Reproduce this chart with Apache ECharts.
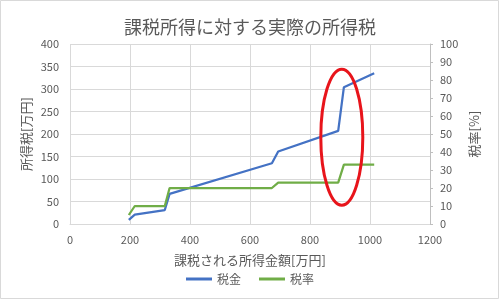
<!DOCTYPE html>
<html><head><meta charset="utf-8">
<script src="https://cdn.jsdelivr.net/npm/echarts@6/dist/echarts.min.js"></script>
<style>html,body{margin:0;padding:0;background:#fff}#c{width:500px;height:300px}</style>
</head><body><div id="c"></div>
<script>
const income = [196, 216, 316, 332, 673, 694, 894, 913, 1014];
const tax = [9, 21, 31, 67, 135, 161, 207, 304, 335];
const rate = [5, 10, 10, 20, 20, 23, 23, 33, 33];
const seriesNames = ['税金', '税率'];
const highlightCenter = [906, 193];

const F = '"Noto Sans CJK JP", "Noto Sans", sans-serif';
const TXT = '#595959';
const GRID = '#d9d9d9';
const chart = echarts.init(document.getElementById('c'), null, {renderer: 'canvas'});
chart.setOption({
  animation: false,
  backgroundColor: '#fff',
  textStyle: {fontFamily: F, color: TXT},
  title: {text: '課税所得に対する実際の所得税', left: 'center', top: 13,
    textStyle: {fontFamily: F, fontSize: 18, fontWeight: 'normal', color: TXT}},
  grid: {left: 70, right: 70, top: 44, bottom: 76},
  legend: {bottom: 10, left: 'center', icon: 'rect', itemWidth: 26, itemHeight: 3, itemGap: 18,
    textStyle: {fontFamily: F, fontSize: 12, color: TXT}, data: seriesNames},
  xAxis: {type: 'value', min: 0, max: 1200, interval: 200,
    name: '課税される所得金額[万円]', nameLocation: 'middle', nameGap: 30,
    nameTextStyle: {fontFamily: F, fontSize: 13, color: TXT},
    axisLine: {show: true, lineStyle: {color: GRID}}, axisTick: {show: false},
    axisLabel: {color: TXT, fontSize: 11, fontFamily: F, margin: 10, formatter: v => String(v)},
    splitLine: {show: true, lineStyle: {color: GRID, width: 1}}},
  yAxis: [
    {type: 'value', min: 0, max: 400, interval: 50, position: 'left',
      name: '所得税[万円]', nameLocation: 'middle', nameRotate: 90, nameGap: 37, nameMoveOverlap: false,
      nameTextStyle: {fontFamily: F, fontSize: 13, color: TXT},
      axisLine: {show: false}, axisTick: {show: false},
      axisLabel: {color: TXT, fontSize: 11, fontFamily: F, margin: 11},
      splitLine: {show: true, lineStyle: {color: GRID, width: 1}}},
    {type: 'value', min: 0, max: 100, interval: 10, position: 'right',
      name: '税率[%]', nameLocation: 'middle', nameRotate: 90, nameGap: 38, nameMoveOverlap: false,
      nameTextStyle: {fontFamily: F, fontSize: 13, color: TXT},
      axisLine: {show: true, lineStyle: {color: '#bfbfbf'}},
      axisTick: {show: true, length: 3, lineStyle: {color: '#bfbfbf'}},
      axisLabel: {color: TXT, fontSize: 11, fontFamily: F, margin: 10},
      splitLine: {show: false}}
  ],
  series: [
    {name: seriesNames[0], type: 'line', yAxisIndex: 0, showSymbol: false, symbol: 'none',
      data: income.map((x, i) => [x, tax[i]]),
      lineStyle: {color: '#4472c4', width: 2.25}, itemStyle: {color: '#4472c4'}},
    {name: seriesNames[1], type: 'line', yAxisIndex: 1, showSymbol: false, symbol: 'none',
      data: income.map((x, i) => [x, rate[i]]),
      lineStyle: {color: '#70ad47', width: 2.25}, itemStyle: {color: '#70ad47'}}
  ]
});
const p = chart.convertToPixel({xAxisIndex: 0, yAxisIndex: 0}, highlightCenter);
chart.setOption({
  graphic: [
    {type: 'rect', shape: {x: 0.5, y: 0.5, width: 498, height: 298}, style: {fill: 'none', stroke: GRID, lineWidth: 1}, z: 100},
    {type: 'ellipse', shape: {cx: p[0], cy: p[1], rx: 21, ry: 68}, style: {fill: 'none', stroke: '#e8141b', lineWidth: 3}, z: 100}
  ]
});
</script></body></html>
